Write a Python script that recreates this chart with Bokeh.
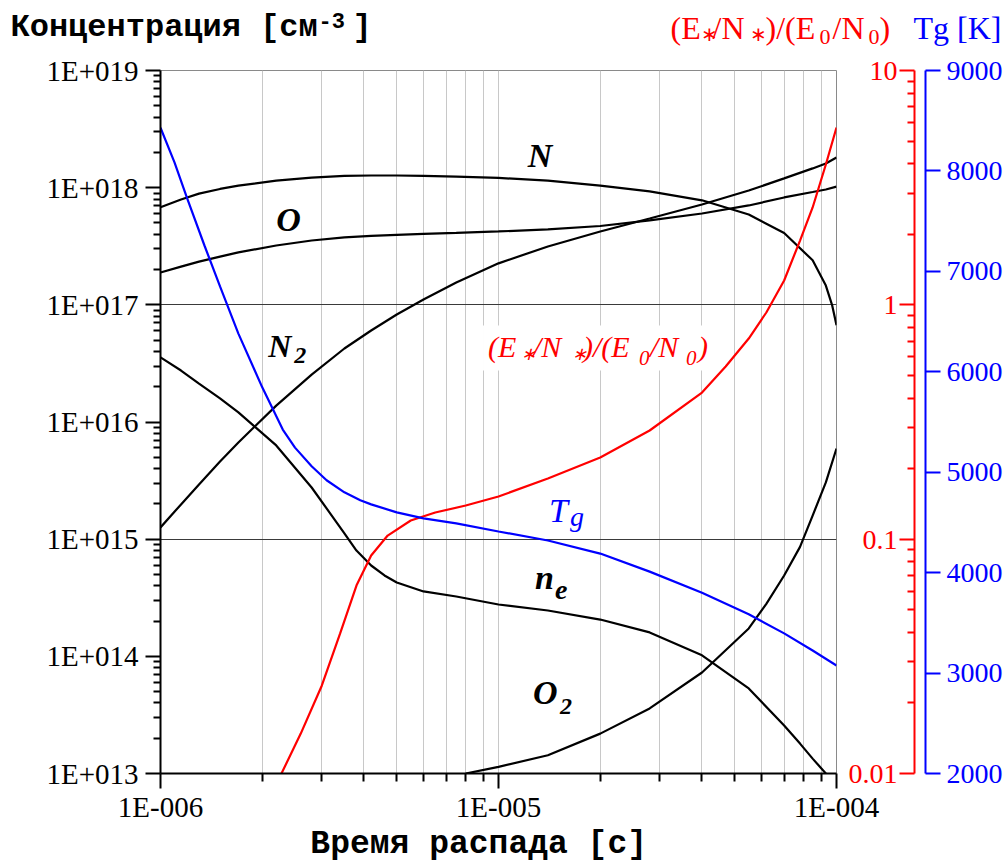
from bokeh.plotting import figure
from bokeh.models import (Range1d, LogScale, LinearScale, LogAxis, LinearAxis,
                          FixedTicker, Label, BoxAnnotation)
from bokeh.layouts import column
from bokeh.embed import file_html
from bokeh.resources import INLINE

# ---------------- data ----------------
T_N = [1.0e-6, 1.15e-6, 1.3e-6, 1.5e-6, 1.7e-6, 2.2e-6, 2.8e-6, 3.5e-6, 4.2e-6, 5.0e-6, 6.0e-6,
       7.5e-6, 1.0e-5, 1.4e-5, 2.0e-5, 2.8e-5, 4.0e-5, 5.5e-5, 7.0e-5, 8.5e-5, 9.3e-5, 9.7e-5, 1.0e-4]
N_ATOM = [6.8e17, 7.93e17, 8.9e17, 9.75e17, 1.04e18, 1.15e18, 1.22e18, 1.26e18, 1.27e18, 1.27e18,
          1.26e18, 1.24e18, 1.21e18, 1.15e18, 1.04e18, 9.3e17, 7.8e17, 5.9e17, 4.1e17, 2.4e17,
          1.46e17, 1.0e17, 6.7e16]

T_MOL = [1.0e-6, 1.15e-6, 1.3e-6, 1.5e-6, 1.7e-6, 2.2e-6, 2.8e-6, 3.5e-6, 4.2e-6, 5.0e-6, 6.0e-6,
         7.5e-6, 1.0e-5, 1.4e-5, 2.0e-5, 2.8e-5, 4.0e-5, 5.5e-5, 7.0e-5, 8.5e-5, 9.3e-5, 1.0e-4]
O_ATOM = [1.89e17, 2.12e17, 2.34e17, 2.58e17, 2.80e17, 3.21e17, 3.54e17, 3.76e17, 3.87e17, 3.95e17,
          4.03e17, 4.11e17, 4.23e17, 4.40e17, 4.71e17, 5.25e17, 6.02e17, 7.05e17, 8.25e17, 9.18e17,
          9.65e17, 1.02e18]
N2_MOL = [1.26e15, 1.98e15, 2.93e15, 4.60e15, 6.69e15, 1.38e16, 2.54e16, 4.24e16, 6.04e16, 8.27e16,
          1.11e17, 1.55e17, 2.26e17, 3.15e17, 4.23e17, 5.46e17, 7.18e17, 9.45e17, 1.20e18, 1.46e18,
          1.61e18, 1.81e18]

T_NE = [1.0e-6, 1.15e-6, 1.3e-6, 1.5e-6, 1.7e-6, 2.2e-6, 2.8e-6, 3.1e-6, 3.5e-6, 3.8e-6, 4.2e-6,
        4.6e-6, 5.0e-6, 6.0e-6, 7.5e-6, 1.0e-5, 1.4e-5, 2.0e-5, 2.8e-5, 4.0e-5, 5.5e-5, 7.0e-5,
        7.8e-5, 8.5e-5, 9.3e-5, 1.0e-4]
N_E = [3.56e16, 2.75e16, 2.13e16, 1.59e16, 1.21e16, 6.31e15, 2.76e15, 1.83e15, 1.12e15, 8.0e14,
       5.96e14, 4.90e14, 4.27e14, 3.58e14, 3.24e14, 2.77e14, 2.46e14, 2.06e14, 1.60e14, 1.02e14,
       5.32e13, 2.57e13, 1.8e13, 1.34e13, 1.0e13, 6.5e12]

T_O2 = [8.0e-6, 1.0e-5, 1.4e-5, 2.0e-5, 2.8e-5, 4.0e-5, 5.5e-5, 6.2e-5, 7.0e-5, 7.8e-5, 8.5e-5,
        9.3e-5, 1.0e-4]
O2_MOL = [1.0e13, 1.14e13, 1.43e13, 2.19e13, 3.59e13, 7.28e13, 1.73e14, 2.8e14, 4.90e14, 8.6e14,
          1.59e15, 3.05e15, 5.94e15]

T_RATIO = [2.28e-6, 2.6e-6, 3.0e-6, 3.4e-6, 3.8e-6, 4.2e-6, 4.7e-6, 5.5e-6, 6.5e-6, 8.0e-6,
           1.0e-5, 1.4e-5, 2.0e-5, 2.8e-5, 4.0e-5, 4.7e-5, 5.5e-5, 6.2e-5, 7.0e-5, 7.8e-5, 8.5e-5,
           9.3e-5, 1.0e-4]
RATIO = [0.0100, 0.0148, 0.0237, 0.0396, 0.0634, 0.0852, 0.1036, 0.1201, 0.1299, 0.1392,
         0.1521, 0.1815, 0.2231, 0.2909, 0.4224, 0.5454, 0.7182, 0.9275, 1.270, 1.881, 2.603,
         3.97, 5.71]

T_TG = [1.0e-6, 1.1e-6, 1.2e-6, 1.35e-6, 1.5e-6, 1.7e-6, 2.0e-6, 2.3e-6, 2.5e-6, 2.8e-6, 3.1e-6,
        3.5e-6, 3.9e-6, 4.2e-6, 5.0e-6, 6.0e-6, 7.5e-6, 1.0e-5, 1.4e-5, 2.0e-5, 2.8e-5, 4.0e-5,
        5.5e-5, 7.0e-5, 8.5e-5, 1.0e-4]
TG = [8430, 8085, 7725, 7255, 6850, 6380, 5845, 5425, 5245, 5060, 4920,
      4800, 4720, 4680, 4600, 4540, 4490, 4410, 4320, 4190, 4010, 3800,
      3585, 3395, 3225, 3075]

X_TICKS = [1e-6, 1e-5, 1e-4]
X_LABELS = ["1E-006", "1E-005", "1E-004"]
Y_TICKS = [1e13, 1e14, 1e15, 1e16, 1e17, 1e18, 1e19]
Y_LABELS = ["1E+013", "1E+014", "1E+015", "1E+016", "1E+017", "1E+018", "1E+019"]
Y_GRID = [1e13, 1e15, 1e17, 1e19]
R_TICKS = [0.01, 0.1, 1.0, 10.0]
R_LABELS = ["0.01", "0.1", "1", "10"]
T_TICKS = [2000, 3000, 4000, 5000, 6000, 7000, 8000, 9000]
T_LABELS = ["2000", "3000", "4000", "5000", "6000", "7000", "8000", "9000"]
X_TITLE = "Время распада [с]"

SERIF = "Liberation Serif"
MONO = "Liberation Mono"
FS, PS, NB = "\u2007", "\u2008", "\u00a0"   # figure space, punctuation space, no-break space
STAR = "\u2217"
BASE_FIX = 0.31               # Bokeh draws "alphabetic" text a bit low; lift it


def minor_log(e0, e1):
    return [m * 10.0 ** e for e in range(e0, e1) for m in range(2, 10)]


def pad(lbl):
    nd = sum(ch.isdigit() for ch in lbl)
    npt = lbl.count(".")
    return FS * (3 - nd) + PS * (1 - npt) + lbl + FS


def put(fig, x, y, text, size, color="black", font=SERIF, style="normal", dx=0, dy=0,
        align="left"):
    fig.add_layout(Label(x=x, y=y, x_offset=dx, y_offset=dy + BASE_FIX * size, text=text,
                         text_font=font, text_font_size=f"{size}px", text_font_style=style,
                         text_color=color, text_align=align, text_baseline="alphabetic"))


def style_axis(ax, color, size=28):
    ax.axis_line_color = color
    ax.axis_line_width = 2
    ax.major_tick_line_color = color
    ax.minor_tick_line_color = color
    ax.major_tick_line_width = 2
    ax.minor_tick_line_width = 2
    ax.major_label_text_color = color
    ax.major_label_text_font = SERIF
    ax.major_label_text_font_size = f"{size}px"
    ax.major_label_text_font_style = "normal"


# ---------------- header with the titles ----------------
h = figure(width=1005, height=50, x_range=Range1d(0, 1005), y_range=Range1d(50, 0),
           x_axis_type=None, y_axis_type=None, output_backend="svg", toolbar_location=None,
           min_border=0, outline_line_color=None)
h.frame_align = False
put(h, 10, 37, "Концентрация [см", 32, font=MONO, style="bold")
put(h, 318, 27, "-3", 22, font=MONO, style="bold")
put(h, 352, 37, "]", 32, font=MONO, style="bold")
for txt, x, y, s in [("(E", 670, 37, 32), (STAR, 700, 40, 20), ("/N", 712, 37, 32),
                     (STAR, 749, 40, 20), (")/(E", 765, 37, 32), ("0", 819, 43, 22),
                     ("/N", 832, 37, 32), ("0", 868, 43, 22), (")", 879, 37, 32)]:
    put(h, x, y, txt, s, color="red")
put(h, 913, 37, "Tg [K]", 32, color="blue")

# ---------------- main plot ----------------
p = figure(width=1005, height=815, x_axis_type="log", y_axis_type="log",
           x_range=Range1d(1e-6, 1e-4), y_range=Range1d(1e13, 1e19),
           output_backend="svg", toolbar_location=None,
           min_border_left=160, min_border_right=168, min_border_top=20, min_border_bottom=92)
p.frame_align = False
p.extra_y_ranges = {"ratio": Range1d(0.01, 10), "tg": Range1d(2000, 9000)}
p.extra_y_scales = {"ratio": LogScale(), "tg": LinearScale()}
p.outline_line_color = "#8a8a8a"
p.outline_line_width = 1

# bottom axis
xa = p.xaxis[0]
xa.ticker = FixedTicker(ticks=X_TICKS, minor_ticks=minor_log(-6, -4))
xa.major_label_overrides = dict(zip(X_TICKS, X_LABELS))
style_axis(xa, "black", 29)
xa.major_tick_out, xa.major_tick_in = 15, 0
xa.minor_tick_out, xa.minor_tick_in = 8, 0
xa.major_label_standoff = 2
xa.axis_label = X_TITLE + NB + NB     # trailing blanks move the centred title a bit left
xa.axis_label_text_font = MONO
xa.axis_label_text_font_style = "bold"
xa.axis_label_text_font_size = "33px"
xa.axis_label_text_color = "black"
xa.axis_label_standoff = 0

# left axis
ya = p.yaxis[0]
ya.ticker = FixedTicker(ticks=Y_TICKS, minor_ticks=minor_log(13, 19))
ya.major_label_overrides = dict(zip(Y_TICKS, Y_LABELS))
style_axis(ya, "black", 29)
ya.major_tick_out, ya.major_tick_in = 15, 0
ya.minor_tick_out, ya.minor_tick_in = 7, 0
ya.major_label_standoff = 7

# grids
p.xgrid.grid_line_color = "#c8c8c8"
p.xgrid.minor_grid_line_color = "#c8c8c8"
p.xgrid.grid_line_width = 1
p.ygrid.ticker = FixedTicker(ticks=Y_GRID)
p.ygrid.grid_line_color = "#3a3a3a"
p.ygrid.grid_line_width = 1

# right axes: red labels, red axis line with inward ticks, blue axis
r_lab = LogAxis(y_range_name="ratio", ticker=FixedTicker(ticks=R_TICKS, minor_ticks=[]),
                major_label_overrides={t: pad(l) for t, l in zip(R_TICKS, R_LABELS)})
style_axis(r_lab, "red")
r_lab.axis_line_color = None
r_lab.major_tick_line_color = None
r_lab.minor_tick_line_color = None
r_lab.major_tick_out = r_lab.major_tick_in = r_lab.minor_tick_out = r_lab.minor_tick_in = 0
r_lab.major_label_standoff = 12
p.add_layout(r_lab, "right")

r_ax = LogAxis(y_range_name="ratio",
               ticker=FixedTicker(ticks=R_TICKS, minor_ticks=minor_log(-2, 1)),
               major_label_overrides={t: PS for t in R_TICKS})
style_axis(r_ax, "red")
r_ax.major_tick_in, r_ax.major_tick_out = 15, 0
r_ax.minor_tick_in, r_ax.minor_tick_out = 7, 0
r_ax.major_label_standoff = 1
p.add_layout(r_ax, "right")

t_ax = LinearAxis(y_range_name="tg", ticker=FixedTicker(ticks=T_TICKS, minor_ticks=[]),
                  major_label_overrides=dict(zip(T_TICKS, T_LABELS)))
style_axis(t_ax, "blue")
t_ax.major_tick_out, t_ax.major_tick_in = 15, 0
t_ax.minor_tick_out = t_ax.minor_tick_in = 0
t_ax.major_label_standoff = 6
p.add_layout(t_ax, "right")

# curves
LW = 2.2
p.line(T_N, N_ATOM, line_color="black", line_width=LW)
p.line(T_MOL, O_ATOM, line_color="black", line_width=LW)
p.line(T_MOL, N2_MOL, line_color="black", line_width=LW)
p.line(T_NE, N_E, line_color="black", line_width=LW)
p.line(T_O2, O2_MOL, line_color="black", line_width=LW)
p.line(T_RATIO, RATIO, line_color="red", line_width=LW, y_range_name="ratio")
p.line(T_TG, TG, line_color="blue", line_width=LW, y_range_name="tg")

# curve labels
BI = "bold italic"
put(p, 1.22e-5, 1.52e18, "N", 34, style=BI)
put(p, 2.20e-6, 4.36e17, "O", 34, style=BI)
put(p, 2.085e-6, 3.70e16, "N", 32, style=BI)
put(p, 2.085e-6, 3.70e16, "2", 24, style=BI, dx=26, dy=-8)
put(p, 1.282e-5, 3.79e14, "n", 34, style=BI)
put(p, 1.282e-5, 3.79e14, "e", 28, style=BI, dx=20, dy=-10)
put(p, 1.265e-5, 3.96e13, "O", 34, style=BI)
put(p, 1.265e-5, 3.96e13, "2", 24, style=BI, dx=27, dy=-10)
put(p, 1.41e-5, 1.44e15, "T", 34, color="blue", style="italic")
put(p, 1.41e-5, 1.44e15, "g", 28, color="blue", style="italic", dx=21, dy=-5)

p.add_layout(BoxAnnotation(left=9.0e-6, right=4.27e-5, bottom=2.75e16, top=6.66e16,
                           fill_color="white", fill_alpha=1.0, line_color=None))
for txt, dx, dy, s in [("(E", 0, 0, 30), (STAR, 33, -4, 18), ("/N", 45, 0, 30),
                       (STAR, 84, -4, 18), (")/(E", 95, 0, 30), ("0", 151, -9, 21),
                       ("/N", 162, 0, 30), ("0", 198, -9, 21), (")", 210, 0, 30)]:
    put(p, 9.31e-6, 3.70e16, txt, s, color="red", style="italic", dx=dx, dy=dy)

layout = column(h, p)
open("out.html", "w").write(file_html(layout, INLINE))
